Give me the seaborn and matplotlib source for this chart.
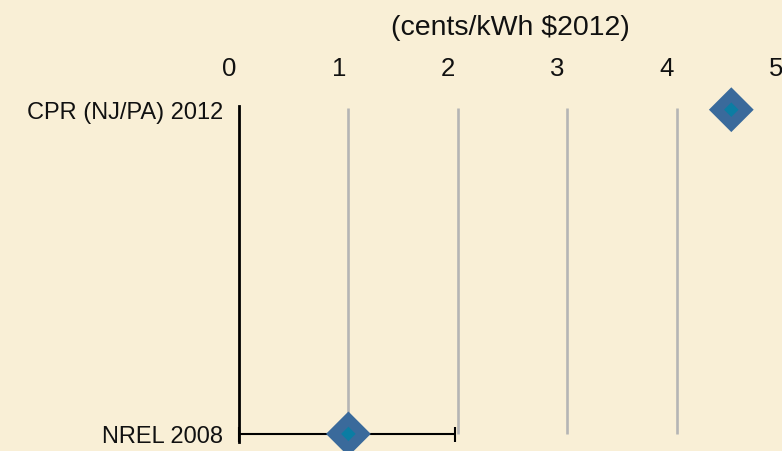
import matplotlib
matplotlib.use("Agg")
import matplotlib.pyplot as plt
import matplotlib.transforms as mtransforms
import pandas as pd
import seaborn as sns

# Levelised cost estimates (cents/kWh, $2012)
studies = ["CPR (NJ/PA) 2012", "NREL 2008"]
values = [4.5, 1.0]
range_low = [None, 0.0]
range_high = [None, 1.97]
x_ticks = [0, 1, 2, 3, 4, 5]
x_label = "(cents/kWh $2012)"

BG = "#F9EFD6"
DIAMOND = "#3A6A9B"
CORE = "#0B7DA3"
GRID = "#B5B5B5"

sns.set_theme(style="white")
plt.rcParams["font.family"] = ["Liberation Sans", "DejaVu Sans"]

df = pd.DataFrame({"study": studies, "value": values,
                   "low": range_low, "high": range_high})
df["pos"] = range(len(df))

fig = plt.figure(figsize=(7.82, 4.52), dpi=100, facecolor=BG)
ax = fig.add_axes([239 / 782, 9 / 452, 547 / 782, 336 / 452])
ax.set_facecolor(BG)

# vertical guide lines between the two studies
ax.vlines(x_ticks[1:], -0.005, 1.0, colors=GRID, linewidth=1.9, zorder=1)

# range bars
rng = df.dropna(subset=["low", "high"])
for _, r in rng.iterrows():
    ax.errorbar(r["value"], r["pos"],
                xerr=[[r["value"] - r["low"]], [r["high"] - r["value"]]],
                fmt="none", ecolor="black", elinewidth=1.5,
                capsize=5.4, capthick=1.5, zorder=2, clip_on=False)

# point estimates: blue diamond with a teal core
sns.scatterplot(data=df, x="value", y="pos", marker="D", s=520,
                color=DIAMOND, edgecolor="none", linewidth=0, ax=ax,
                zorder=3, legend=False, clip_on=False)
sns.scatterplot(data=df, x="value", y="pos", marker="D", s=55,
                color=CORE, edgecolor="none", linewidth=0, ax=ax,
                zorder=4, legend=False, clip_on=False)

ax.set_xlim(0, 5)
ax.set_ylim(1.025, -0.0114)
ax.set_ylabel("")
ax.set_yticks(df["pos"])
ax.set_yticklabels(df["study"], fontsize=17, color="#111111")
ax.tick_params(axis="y", length=0, pad=11.5)

ax.xaxis.tick_top()
ax.set_xticks(x_ticks)
ax.set_xticklabels([str(t) for t in x_ticks], fontsize=18.5, color="#111111")
ax.tick_params(axis="x", length=0, pad=19)
shift = mtransforms.ScaledTranslation(-9.7 / 100, 0, fig.dpi_scale_trans)
for lbl in ax.get_xticklabels():
    lbl.set_transform(lbl.get_transform() + shift)

ax.xaxis.set_label_position("top")
ax.set_xlabel(x_label, fontsize=20.5, color="#111111")
ax.xaxis.set_label_coords((510 - 239) / 547, 1 + 79 / 336)
ax.xaxis.label.set_va("center")

for side in ("top", "right", "bottom"):
    ax.spines[side].set_visible(False)
ax.spines["left"].set_color("black")
ax.spines["left"].set_linewidth(2.0)
ax.grid(False)

fig.savefig("out.png", dpi=100, facecolor=BG)
